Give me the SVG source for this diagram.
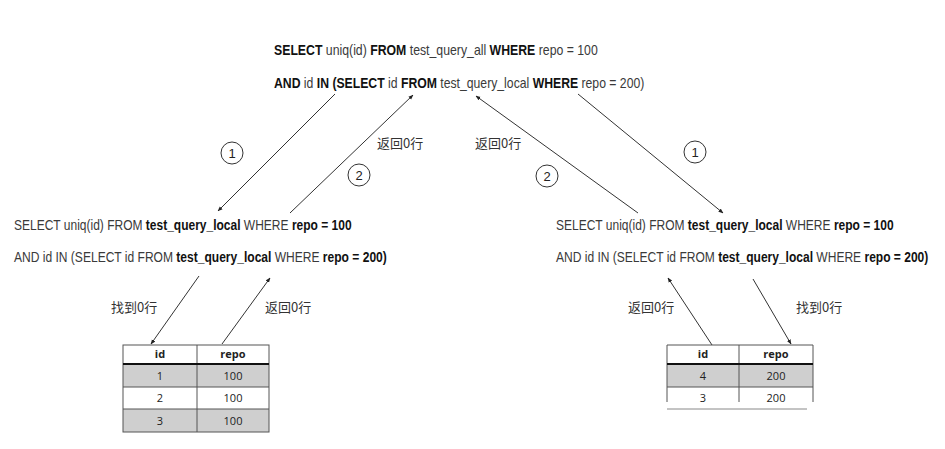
<svg xmlns="http://www.w3.org/2000/svg" width="945" height="449" viewBox="0 0 945 449">
<style>
.q{font-family:"Liberation Sans",Arial,sans-serif;font-size:14px;fill:#3a3a3a}
.b{font-weight:bold;fill:#111}
.cn{font-family:"Noto Sans CJK SC","Noto Sans",sans-serif;font-size:13px;fill:#333}
.num{font-family:"Liberation Sans",Arial,sans-serif;font-size:13px;fill:#222;text-anchor:middle}
.circ{fill:#fff;stroke:#333;stroke-width:1}
.conn{stroke:#333;stroke-width:1;fill:none}
.tb{stroke:#555;stroke-width:1;fill:none}
.th{font-family:"Open Sans","Liberation Sans",sans-serif;font-size:11px;font-weight:bold;fill:#222;text-anchor:middle}
.td{font-family:"Open Sans","Liberation Sans",sans-serif;font-size:11px;fill:#222;text-anchor:middle}
.gray{fill:#cfcfcf}
</style>
<defs>
<marker id="ah" viewBox="0 0 10 10" refX="9" refY="5" markerWidth="5" markerHeight="5" orient="auto" markerUnits="userSpaceOnUse">
<path d="M0,1 L10,5 L0,9 z" fill="#222"/>
</marker>
</defs>
<rect width="945" height="449" fill="#fff"/>

<g id="top-query">
<text class="q" transform="translate(274,55) scale(0.878,1)"><tspan class="b">SELECT</tspan> uniq(id) <tspan class="b">FROM</tspan> test_query_all <tspan class="b">WHERE</tspan> repo = 100</text>
<text class="q" transform="translate(274,88) scale(0.874,1)"><tspan class="b">AND</tspan> id <tspan class="b">IN (SELECT</tspan> id <tspan class="b">FROM</tspan> test_query_local <tspan class="b">WHERE</tspan> repo = 200)</text>
</g>

<g id="left-query">
<text class="q" transform="translate(14,230) scale(0.858,1)">SELECT uniq(id) FROM <tspan class="b">test_query_local</tspan> WHERE <tspan class="b">repo = 100</tspan></text>
<text class="q" transform="translate(14,262) scale(0.861,1)">AND id IN (SELECT id FROM <tspan class="b">test_query_local</tspan> WHERE <tspan class="b">repo = 200)</tspan></text>
</g>

<g id="right-query">
<text class="q" transform="translate(556,230) scale(0.858,1)">SELECT uniq(id) FROM <tspan class="b">test_query_local</tspan> WHERE <tspan class="b">repo = 100</tspan></text>
<text class="q" transform="translate(556,262) scale(0.859,1)">AND id IN (SELECT id FROM <tspan class="b">test_query_local</tspan> WHERE <tspan class="b">repo = 200)</tspan></text>
</g>

<g id="connectors">
<line class="conn" x1="335" y1="94" x2="218" y2="211" marker-end="url(#ah)"/>
<line class="conn" x1="290" y1="213" x2="413" y2="95" marker-end="url(#ah)"/>
<line class="conn" x1="638" y1="213" x2="476" y2="96" marker-end="url(#ah)"/>
<line class="conn" x1="578" y1="94" x2="723" y2="213" marker-end="url(#ah)"/>
<line class="conn" x1="199" y1="276" x2="151" y2="344" marker-end="url(#ah)"/>
<line class="conn" x1="222" y1="344" x2="270" y2="278" marker-end="url(#ah)"/>
<line class="conn" x1="712" y1="345" x2="668" y2="278" marker-end="url(#ah)"/>
<line class="conn" x1="753" y1="279" x2="791" y2="344" marker-end="url(#ah)"/>
</g>

<g id="step-labels">
<circle class="circ" cx="232" cy="153" r="11"/><text class="num" x="232" y="158">1</text>
<circle class="circ" cx="359" cy="175" r="11"/><text class="num" x="359" y="180">2</text>
<circle class="circ" cx="547" cy="176" r="11"/><text class="num" x="547" y="181">2</text>
<circle class="circ" cx="695" cy="152" r="11"/><text class="num" x="695" y="157">1</text>
<text class="cn" x="377" y="148">返回0行</text>
<text class="cn" x="475" y="148">返回0行</text>
<text class="cn" x="111" y="312">找到0行</text>
<text class="cn" x="265" y="312">返回0行</text>
<text class="cn" x="628" y="312">返回0行</text>
<text class="cn" x="796" y="312">找到0行</text>
</g>

<g id="left-table">
<rect class="gray" x="123" y="364" width="146" height="23"/>
<rect class="gray" x="123" y="409" width="146" height="23"/>
<rect class="tb" x="123" y="345" width="146" height="87"/>
<line class="tb" x1="197" y1="345" x2="197" y2="432"/>
<line x1="123" y1="364" x2="269" y2="364" stroke="#111" stroke-width="2"/>
<line class="tb" x1="123" y1="387" x2="269" y2="387"/>
<line class="tb" x1="123" y1="409" x2="269" y2="409"/>
<text class="th" x="160" y="358">id</text><text class="th" x="233" y="358">repo</text>
<text class="td" x="160" y="380">1</text><text class="td" x="233" y="380">100</text>
<text class="td" x="160" y="402">2</text><text class="td" x="233" y="402">100</text>
<text class="td" x="160" y="425">3</text><text class="td" x="233" y="425">100</text>
</g>

<g id="right-table">
<rect class="gray" x="667" y="364" width="146" height="23"/>
<line class="tb" x1="667" y1="345" x2="813" y2="345"/>
<line class="tb" x1="667" y1="345" x2="667" y2="402"/>
<line class="tb" x1="813" y1="345" x2="813" y2="402"/>
<line class="tb" x1="739" y1="345" x2="739" y2="402"/>
<line x1="667" y1="364" x2="813" y2="364" stroke="#111" stroke-width="2"/>
<line class="tb" x1="667" y1="387" x2="813" y2="387"/>
<line x1="667" y1="409" x2="807" y2="409" stroke="#888" stroke-width="1"/>
<text class="th" x="703" y="358">id</text><text class="th" x="776" y="358">repo</text>
<text class="td" x="703" y="380">4</text><text class="td" x="776" y="380">200</text>
<text class="td" x="703" y="402">3</text><text class="td" x="776" y="402">200</text>
</g>
</svg>
